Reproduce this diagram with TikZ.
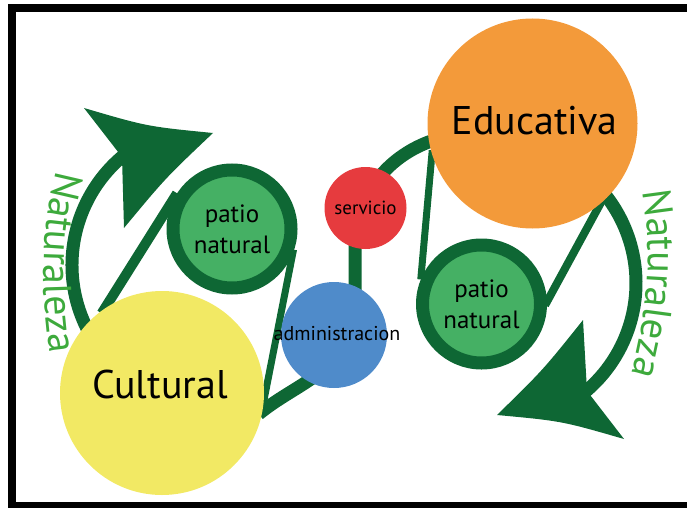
\documentclass[tikz,border=0pt]{standalone}
\usepackage{fontspec}
\setmainfont{PT Sans}
\usetikzlibrary{backgrounds,decorations.text}
\definecolor{leafgreen}{HTML}{0E6734}
\definecolor{patiogreen}{HTML}{45B064}
\definecolor{natgreen}{HTML}{3DAA3C}
\definecolor{cultyellow}{HTML}{F2E964}
\definecolor{eduorange}{HTML}{F39A3A}
\definecolor{servred}{HTML}{E63B3E}
\definecolor{admblue}{HTML}{4F8BCA}
\newcommand\natfont{\fontsize{40}{40}\selectfont}

\begin{document}
\begin{tikzpicture}
  [x=1pt, y=1pt,
   disc/.style={circle, inner sep=0pt, minimum size=#1},
   patio/.style={circle, draw=leafgreen, line width=13pt, fill=patiogreen,
     minimum size=118pt, inner sep=0pt, align=center,
     font=\fontsize{25}{31}\selectfont},
   belt/.style={draw=leafgreen},
   bigtext/.style={font=\fontsize{40}{40}\selectfont}]
  \useasboundingbox (0,0) rectangle (687,-508);
  % frame, open on the right
  \fill (8,-4) rectangle (687,-12);
  \fill (8,-4) rectangle (16,-508);
  \fill (8,-502) rectangle (687,-508);

  % the five areas
  \node[disc=204pt, fill=cultyellow] (cult) at (162,-393) {};
  \node[disc=210pt, fill=eduorange] (edu) at (532.5,-123.5) {};
  \node[patio] (patL) at (232,-229) {patio\\natural};
  \node[patio] (patR) at (481.5,-304) {patio\\natural};
  \node[disc=82pt, fill=servred, font=\fontsize{19}{19}\selectfont] (serv) at (365.5,-208) {servicio};
  \node[disc=106pt, fill=admblue] (adm) at (334,-335) {};
  \node[font=\fontsize{20}{20}\selectfont] (admin) at (337,-334) {administracion};
  \node[bigtext] (cultural) at (160,-384) {Cultural};
  \node[bigtext] (educativa) at (534.5,-121) {Educativa};

  \begin{scope}[on background layer]
    % belts round the pairs
    \draw[belt, line width=10pt, shorten <=-6pt] (cult.124) -- (patL.147);
    \draw[belt, line width=7pt, shorten <=-4pt, shorten >=-4pt] (patL.-22) -- (cult.-4);
    \draw[belt, line width=7pt, shorten <=-4pt] (edu.197) -- (patR.158);
    \draw[belt, line width=8pt, shorten <=-4pt, shorten >=-4pt] (edu.-50) -- (patR.2);
    % the S through the middle
    \draw[belt, line width=13pt, shorten <=-5pt, shorten >=-5pt]
      (cult.-10) .. controls (300,-380) and (355,-370) .. (355,-300)
      -- (355,-250) .. controls (355,-185) and (398,-152) .. (edu.190);
    % left loop
    \draw[belt, line width=13pt] (214,-265) ++(209:142pt) arc[start angle=209, end angle=125, radius=142pt];
    \fill[leafgreen] (84,-108) .. controls (147,-126.5) .. (213,-133)
      .. controls (165.5,-178) .. (124,-228) -- (122,-157) -- cycle;
    % right loop
    \draw[belt, line width=13pt] (494,-283) ++(40:142pt) arc[start angle=40, end angle=-55, radius=142pt];
    \fill[leafgreen] (583,-320) .. controls (543,-370) .. (497,-415)
      .. controls (561.7,-421) .. (624,-439) -- (587,-391) -- cycle;
  \end{scope}

  % labels along the loops
  \path[decorate, decoration={text along path, text align=center, text color=natgreen,
    text={|\natfont|Naturaleza}}] (60,-160) .. controls (40,-220) and (40,-300) .. (52,-365);
  \path[decorate, decoration={text along path, text align=center, text color=natgreen,
    text={|\natfont|Naturaleza}}] (642,-188) .. controls (652,-240) and (650,-310) .. (630,-378);
\end{tikzpicture}
\end{document}
